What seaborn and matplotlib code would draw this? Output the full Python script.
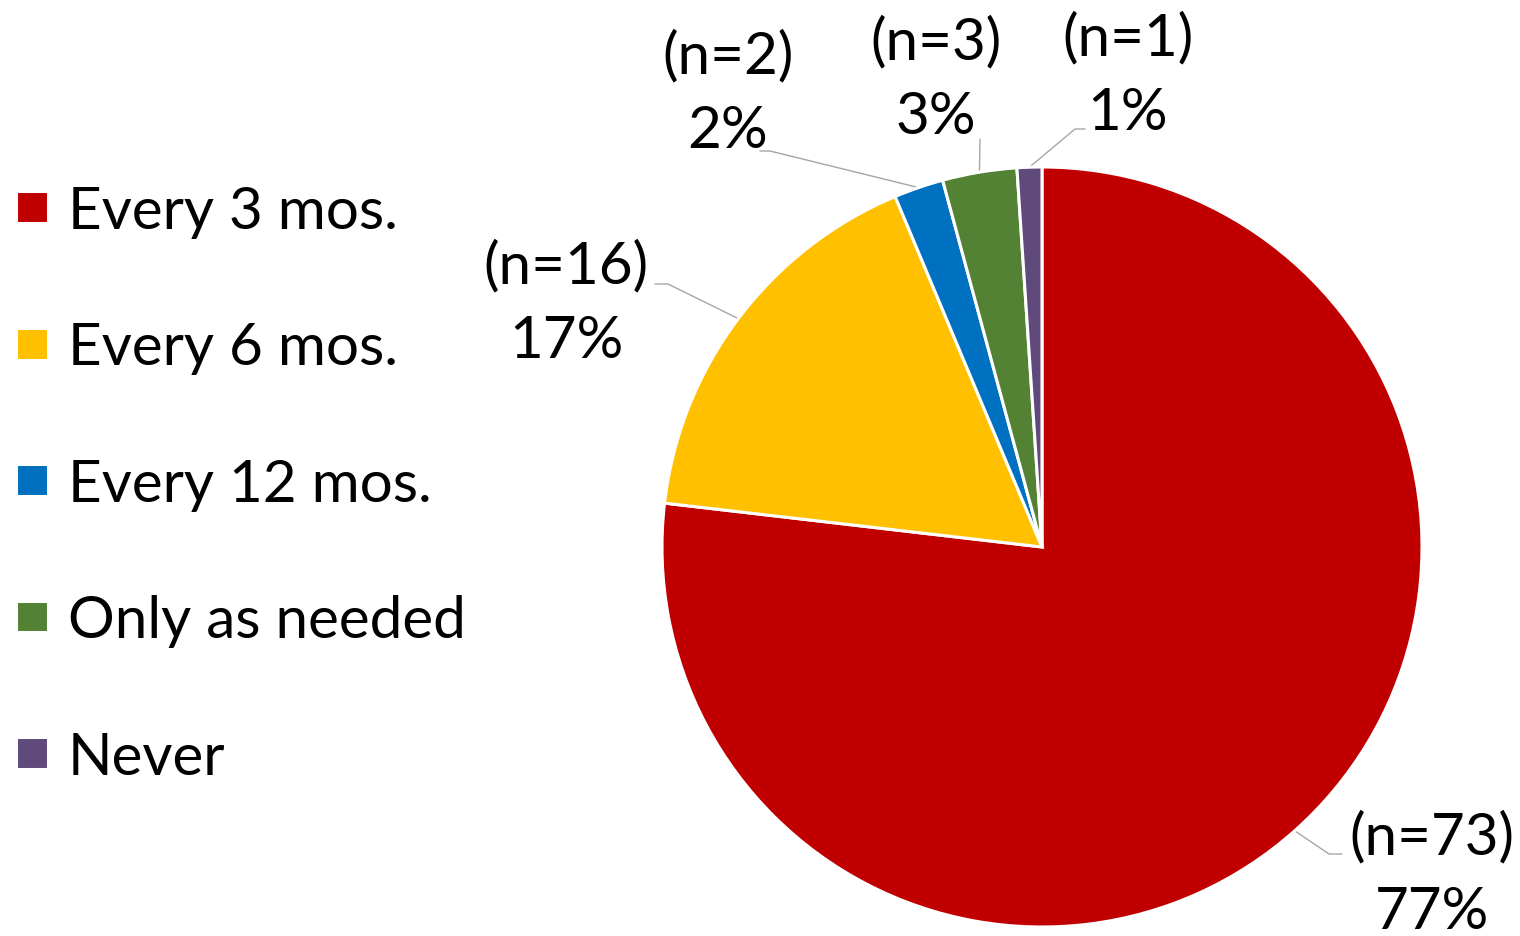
"""Pie chart of check-up frequency with n labels."""

import matplotlib
matplotlib.use("Agg")
import matplotlib.pyplot as plt
import numpy as np
import seaborn as sns

categories = ["Every 3 mos.", "Every 6 mos.", "Every 12 mos.", "Only as needed", "Never"]
counts = [73, 16, 2, 3, 1]
percent_labels = ["77%", "17%", "2%", "3%", "1%"]
colors = ["#C00000", "#FFC000", "#0070C0", "#548235", "#604A7B"]

sns.set_theme(style="white")
plt.rcParams["font.family"] = ["Lato", "DejaVu Sans"]
plt.rcParams["text.color"] = "black"

W, H = 1520, 937
fig = plt.figure(figsize=(W / 100, H / 100), dpi=100)
ax = fig.add_axes([0, 0, 1, 1])

cx, cy, r = 1042, H - 548, 380
wedges, _ = ax.pie(
    counts,
    colors=colors,
    startangle=90,
    counterclock=False,
    center=(cx, cy),
    radius=r,
    wedgeprops=dict(edgecolor="white", linewidth=2.2),
    frame=True,
)
ax.set_xlim(0, W)
ax.set_ylim(0, H)
ax.set_aspect("equal")
ax.axis("off")

# label layout: text centre and leader elbow (pixel coords, y from top)
label_layout = [
    dict(text=(1432, 875), elbow=[(1329, 855), (1342, 855)]),
    dict(text=(566, 304), elbow=[(668, 285), (655, 285)]),
    dict(text=(728, 94), elbow=[(770, 152), (760, 152)]),
    dict(text=(936, 80), elbow=[(980, 140)]),
    dict(text=(1128, 76), elbow=[(1075, 130), (1085, 130)]),
]

for w, n, pct, lay in zip(wedges, counts, percent_labels, label_layout):
    mid = np.deg2rad((w.theta1 + w.theta2) / 2)
    ex, ey = cx + r * np.cos(mid), cy + r * np.sin(mid)
    xs = [ex] + [p[0] for p in lay["elbow"]]
    ys = [ey] + [H - p[1] for p in lay["elbow"]]
    ax.plot(xs, ys, color="#A6A6A6", lw=1.0, zorder=0)
    tx, ty = lay["text"]
    ax.text(tx, H - ty, f"(n={n})\n{pct}", ha="center", va="center",
            fontsize=42, linespacing=1.5, color="black")

fig.legend(
    wedges, categories,
    loc="upper left", bbox_to_anchor=(16 / W, 1 - 186 / H),
    frameon=False, fontsize=42,
    handlelength=0.55, handleheight=0.46, handletextpad=0.34,
    labelspacing=1.43, borderpad=0, borderaxespad=0,
)

fig.savefig("out.png", dpi=100)
